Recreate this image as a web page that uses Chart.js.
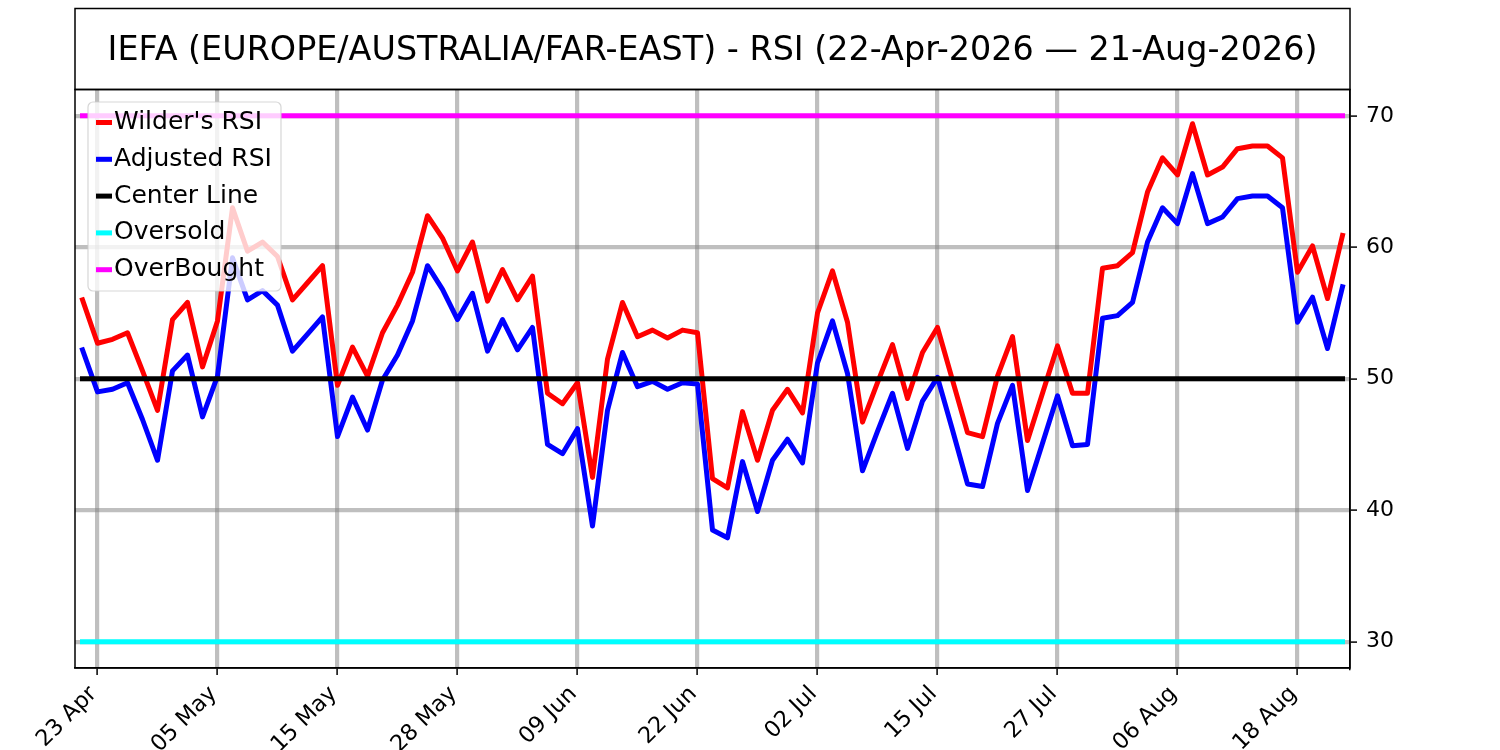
<!DOCTYPE html>
<html>
<head>
<meta charset="utf-8">
<script src="https://cdn.jsdelivr.net/npm/chart.js@4.4.1/dist/chart.umd.min.js"></script>
<style>
  html, body { margin: 0; padding: 0; background: #fff; }
  #wrap { width: 1500px; height: 750px; }
</style>
</head>
<body>
<div id="wrap"><canvas id="rsiChart" width="1500" height="750"></canvas></div>
<script>
// trading days, 22-Apr-2026 .. 21-Aug-2026
const dates = [
  '22 Apr', '23 Apr', '24 Apr', '27 Apr', '28 Apr', '29 Apr', '30 Apr', '01 May', '04 May', '05 May',
  '06 May', '07 May', '08 May', '11 May', '12 May', '13 May', '14 May', '15 May', '18 May', '19 May',
  '20 May', '21 May', '22 May', '26 May', '27 May', '28 May', '29 May', '01 Jun', '02 Jun', '03 Jun',
  '04 Jun', '05 Jun', '08 Jun', '09 Jun', '10 Jun', '11 Jun', '12 Jun', '15 Jun', '16 Jun', '17 Jun',
  '18 Jun', '22 Jun', '23 Jun', '24 Jun', '25 Jun', '26 Jun', '29 Jun', '30 Jun', '01 Jul', '02 Jul',
  '06 Jul', '07 Jul', '08 Jul', '09 Jul', '10 Jul', '13 Jul', '14 Jul', '15 Jul', '16 Jul', '17 Jul',
  '20 Jul', '21 Jul', '22 Jul', '23 Jul', '24 Jul', '27 Jul', '28 Jul', '29 Jul', '30 Jul', '31 Jul',
  '03 Aug', '04 Aug', '05 Aug', '06 Aug', '07 Aug', '10 Aug', '11 Aug', '12 Aug', '13 Aug', '14 Aug',
  '17 Aug', '18 Aug', '19 Aug', '20 Aug', '21 Aug'
];

const wildersRsi = [
  56.0, 52.7, 53.0, 53.5, 50.6, 47.6, 54.5, 55.8, 50.9, 54.4,
  63.0, 59.7, 60.4, 59.3, 56.0, 57.3, 58.6, 49.5, 52.4, 50.2,
  53.5, 55.6, 58.1, 62.4, 60.7, 58.2, 60.4, 55.9, 58.3, 56.0,
  57.8, 48.9, 48.1, 49.7, 42.5, 51.5, 55.8, 53.2, 53.7, 53.1,
  53.7, 53.5, 42.4, 41.7, 47.5, 43.8, 47.6, 49.2, 47.4, 55.0,
  58.2, 54.3, 46.7, 49.7, 52.6, 48.5, 52.0, 53.9, 49.9, 45.9,
  45.6, 50.2, 53.2, 45.3, 48.9, 52.5, 48.9, 48.9, 58.4, 58.6,
  59.6, 64.2, 66.8, 65.5, 69.4, 65.5, 66.1, 67.5, 67.7, 67.7,
  66.8, 58.1, 60.1, 56.1, 60.9
];

const adjustedRsi = [
  52.2, 49.0, 49.2, 49.7, 46.9, 43.8, 50.6, 51.8, 47.1, 50.2,
  59.2, 56.0, 56.7, 55.6, 52.1, 53.4, 54.7, 45.6, 48.6, 46.1,
  49.9, 51.8, 54.4, 58.6, 56.8, 54.5, 56.5, 52.1, 54.5, 52.2,
  53.9, 45.0, 44.3, 46.2, 38.8, 47.6, 52.0, 49.4, 49.8, 49.2,
  49.7, 49.6, 38.5, 37.9, 43.7, 39.9, 43.8, 45.4, 43.6, 51.2,
  54.4, 50.4, 43.0, 46.0, 48.9, 44.7, 48.3, 50.1, 46.1, 42.0,
  41.8, 46.6, 49.5, 41.5, 45.1, 48.7, 44.9, 45.0, 54.6, 54.8,
  55.8, 60.4, 63.0, 61.8, 65.6, 61.8, 62.3, 63.7, 63.9, 63.9,
  63.0, 54.3, 56.2, 52.3, 57.0
];

const levelNames = ['Center Line', 'Oversold', 'OverBought'];
const levelValues = [50, 30, 70];
const levelColors = ['#000000', '#00ffff', '#ff00ff'];

const yTicks = [30, 40, 50, 60, 70];
const titleText = 'IEFA (EUROPE/AUSTRALIA/FAR-EAST) - RSI (22-Apr-2026 \u2014 21-Aug-2026)';

const FONT = "'DejaVu Sans', sans-serif";
const GRID = 'rgba(128,128,128,0.5)';
const GRID_LW = 4.2;
const LW = 5;

// title box, axes frame and the legend (drawn over the lines)
const frameAndLegend = {
  id: 'frameAndLegend',
  afterDraw(chart) {
    const { ctx, chartArea: a } = chart;
    ctx.save();
    ctx.strokeStyle = '#000';
    ctx.lineWidth = 1.5;
    ctx.strokeRect(a.left, 8.5, a.right - a.left, a.top - 8.5);
    ctx.strokeRect(a.left, a.top, a.right - a.left, a.bottom - a.top);

    ctx.fillStyle = '#000';
    ctx.font = '33.4px ' + FONT;
    ctx.textAlign = 'center';
    ctx.textBaseline = 'middle';
    ctx.fillText(titleText, (a.left + a.right) / 2, 51);

    const x0 = a.left + 13, y0 = a.top + 12.5, w = 193, h = 189;
    ctx.beginPath();
    ctx.roundRect(x0, y0, w, h, 5);
    ctx.fillStyle = 'rgba(255,255,255,0.8)';
    ctx.fill();
    ctx.strokeStyle = 'rgba(204,204,204,0.8)';
    ctx.lineWidth = 1.2;
    ctx.stroke();

    ctx.font = '25px ' + FONT;
    ctx.textAlign = 'left';
    chart.data.datasets.forEach((ds, i) => {
      const y = y0 + 20.5 + i * 36.8;
      ctx.beginPath();
      ctx.moveTo(x0 + 8, y);
      ctx.lineTo(x0 + 24, y);
      ctx.strokeStyle = ds.borderColor;
      ctx.lineWidth = LW;
      ctx.stroke();
      ctx.fillStyle = '#000';
      ctx.fillText(ds.label, x0 + 26, y);
    });
    ctx.restore();
  }
};

const lineStyle = {
  borderWidth: LW,
  pointRadius: 0,
  tension: 0,
  fill: false,
  borderJoinStyle: 'round',
  borderCapStyle: 'square'
};

const datasets = [
  { label: "Wilder's RSI", data: wildersRsi, borderColor: '#ff0000', order: 4, ...lineStyle },
  { label: 'Adjusted RSI', data: adjustedRsi, borderColor: '#0000ff', order: 3, ...lineStyle }
];
levelNames.forEach((name, k) => {
  datasets.push({
    label: name,
    data: [{ x: dates[0], y: levelValues[k] }, { x: dates[dates.length - 1], y: levelValues[k] }],
    borderColor: levelColors[k],
    order: 2 - k,
    ...lineStyle
  });
});

const isTick = i => i % 8 === 1;

new Chart(document.getElementById('rsiChart'), {
  type: 'line',
  data: { labels: dates, datasets },
  options: {
    responsive: false,
    animation: false,
    devicePixelRatio: 1,
    layout: { padding: { left: 75, right: 0, top: 89.5, bottom: 0 } },
    plugins: {
      legend: { display: false },
      tooltip: { enabled: false },
      title: { display: false }
    },
    scales: {
      x: {
        type: 'category',
        offset: true,
        afterFit: s => { s.height = 82; },
        grid: {
          offset: false,
          color: c => isTick(c.index) ? GRID : 'transparent',
          lineWidth: c => isTick(c.index) ? GRID_LW : 0,
          tickColor: '#000',
          tickWidth: c => isTick(c.index) ? 1.5 : 0,
          tickLength: 7
        },
        border: { display: true, color: '#000', width: 1.5 },
        ticks: {
          autoSkip: false,
          minRotation: 45,
          maxRotation: 45,
          padding: 6,
          labelOffset: -4,
          color: '#000',
          font: { family: FONT, size: 22.5 },
          callback(value, index) { return isTick(index) ? this.getLabelForValue(value) : ''; }
        }
      },
      y: {
        position: 'right',
        min: 28,
        max: 72,
        afterBuildTicks: s => { s.ticks = yTicks.map(v => ({ value: v })); },
        afterFit: s => { s.width = 150; },
        grid: { color: GRID, lineWidth: GRID_LW, tickColor: '#000', tickWidth: 1.5, tickLength: 7 },
        border: { display: true, color: '#000', width: 1.5 },
        ticks: { color: '#000', padding: 9, font: { family: FONT, size: 22 } }
      }
    }
  },
  plugins: [frameAndLegend]
});
</script>
</body>
</html>
